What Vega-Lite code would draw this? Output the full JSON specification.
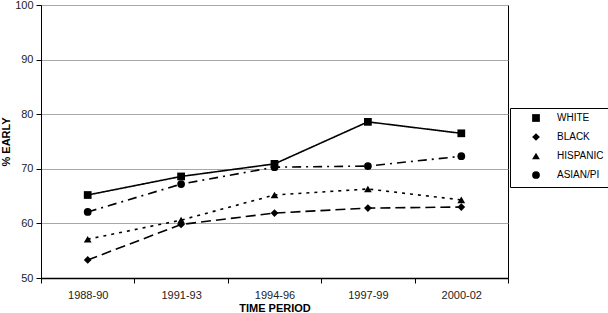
{
  "$schema": "https://vega.github.io/schema/vega-lite/v6.json",
  "width": 467,
  "height": 273,
  "autosize": {"type": "none"},
  "padding": {"left": 41, "top": 5, "right": 100, "bottom": 35},
  "background": "white",
  "config": {
    "font": "Liberation Sans",
    "view": {"stroke": "black", "strokeWidth": 1}
  },
  "data": {
    "values": [
      {"period": "1988-90", "race": "WHITE", "value": 65.2},
      {"period": "1991-93", "race": "WHITE", "value": 68.6},
      {"period": "1994-96", "race": "WHITE", "value": 70.9},
      {"period": "1997-99", "race": "WHITE", "value": 78.6},
      {"period": "2000-02", "race": "WHITE", "value": 76.5},
      {"period": "1988-90", "race": "BLACK", "value": 53.3},
      {"period": "1991-93", "race": "BLACK", "value": 59.8},
      {"period": "1994-96", "race": "BLACK", "value": 61.9},
      {"period": "1997-99", "race": "BLACK", "value": 62.8},
      {"period": "2000-02", "race": "BLACK", "value": 63.0},
      {"period": "1988-90", "race": "HISPANIC", "value": 57.1},
      {"period": "1991-93", "race": "HISPANIC", "value": 60.6},
      {"period": "1994-96", "race": "HISPANIC", "value": 65.2},
      {"period": "1997-99", "race": "HISPANIC", "value": 66.3},
      {"period": "2000-02", "race": "HISPANIC", "value": 64.3},
      {"period": "1988-90", "race": "ASIAN/PI", "value": 62.1},
      {"period": "1991-93", "race": "ASIAN/PI", "value": 67.2},
      {"period": "1994-96", "race": "ASIAN/PI", "value": 70.3},
      {"period": "1997-99", "race": "ASIAN/PI", "value": 70.5},
      {"period": "2000-02", "race": "ASIAN/PI", "value": 72.3}
    ]
  },
  "resolve": {"legend": {"strokeDash": "independent", "shape": "independent"}},
  "encoding": {
    "x": {
      "field": "period",
      "type": "nominal",
      "sort": null,
      "scale": {"type": "band", "paddingInner": 0, "paddingOuter": 0},
      "axis": {
        "title": "TIME PERIOD",
        "titleFontWeight": "bold",
        "titleFontSize": 11,
        "titleColor": "black",
        "titlePadding": 2,
        "labelAngle": 0,
        "labelFontSize": 11,
        "labelColor": "#222",
        "labelPadding": 6,
        "tickBand": "extent",
        "tickSize": 5,
        "tickColor": "black",
        "domainColor": "black",
        "domainWidth": 1.5,
        "grid": false
      }
    },
    "y": {
      "field": "value",
      "type": "quantitative",
      "scale": {"domain": [50, 100], "nice": false, "zero": false},
      "axis": {
        "title": "% EARLY",
        "titleFontWeight": "bold",
        "titleFontSize": 11,
        "titleColor": "black",
        "titlePadding": 3,
        "values": [50, 60, 70, 80, 90, 100],
        "labelFontSize": 11,
        "labelColor": "#222",
        "labelPadding": 3,
        "tickSize": 5,
        "tickColor": "black",
        "domainColor": "black",
        "grid": true,
        "gridColor": "#a8a8a8",
        "gridWidth": 1
      }
    }
  },
  "layer": [
    {
      "mark": {"type": "line", "color": "black", "strokeWidth": 1.6},
      "encoding": {
        "detail": {"field": "race"},
        "strokeDash": {
          "field": "race",
          "type": "nominal",
          "title": null,
          "legend": null,
          "scale": {
            "domain": ["WHITE", "BLACK", "HISPANIC", "ASIAN/PI"],
            "range": [[1, 0], [10, 5], [3, 5], [9, 5, 2, 5]]
          }
        }
      }
    },
    {
      "mark": {"type": "point", "filled": true, "color": "black", "opacity": 1, "size": 60},
      "encoding": {
        "shape": {
          "field": "race",
          "type": "nominal",
          "title": null,
          "scale": {
            "domain": ["WHITE", "BLACK", "HISPANIC", "ASIAN/PI"],
            "range": ["square", "diamond", "triangle-up", "circle"]
          },
          "legend": {
            "orient": "none",
            "legendX": 469,
            "legendY": 103,
            "strokeColor": "black",
            "fillColor": "white",
            "padding": 5,
            "symbolSize": 60,
            "symbolOffset": 16,
            "labelOffset": 16,
            "labelFontSize": 10,
            "labelColor": "black",
            "rowPadding": 5,
            "symbolFillColor": "black",
            "symbolStrokeColor": "black",
            "symbolOpacity": 1
          }
        }
      }
    }
  ]
}
